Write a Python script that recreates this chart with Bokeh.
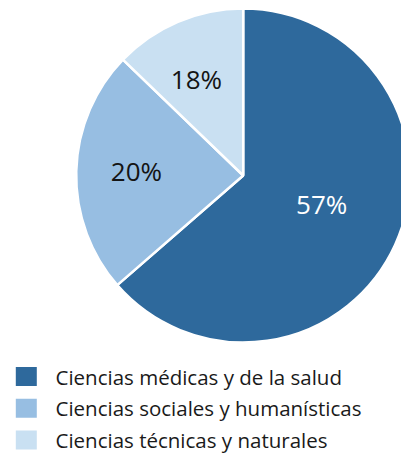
import numpy as np
from bokeh.plotting import figure
from bokeh.models import Range1d, ColumnDataSource
from bokeh.core.properties import value
from bokeh.embed import file_html
from bokeh.resources import INLINE

categories = ["Ciencias médicas y de la salud",
              "Ciencias sociales y humanísticas",
              "Ciencias técnicas y naturales"]
# slice shares as drawn in the picture (percent of the circle)
shares = [63.6, 23.6, 12.8]
# labels printed on the slices
labels = ["57%", "20%", "18%"]
colors = ["#2E699C", "#97BEE2", "#C9E0F2"]
label_colors = ["#FFFFFF", "#141414", "#141414"]

W, H = 401, 455
cx, cy, R = 242.7, 280.0, 167.0

frac = np.array(shares) / 100.0
cum = np.concatenate([[0.0], np.cumsum(frac)])
end_angles = np.pi / 2 - 2 * np.pi * cum[:-1]
start_angles = np.pi / 2 - 2 * np.pi * cum[1:]
mid = (start_angles + end_angles) / 2
label_r = np.array([0.50, 0.64, 0.64]) * R
label_shift = np.radians([4.5, -1.2, 2.9])

p = figure(width=W, height=H, output_backend="svg", toolbar_location=None,
           x_range=Range1d(0, W), y_range=Range1d(0, H),
           min_border=0, outline_line_color=None)
p.axis.visible = False
p.grid.visible = False
p.background_fill_color = "white"
p.border_fill_color = "white"

src = ColumnDataSource(dict(start=start_angles, end=end_angles, color=colors))
p.wedge(x=cx, y=cy, radius=R, start_angle="start", end_angle="end",
        direction="anticlock", fill_color="color", line_color="white",
        line_width=2.5, source=src)

ang = mid + label_shift
lsrc = ColumnDataSource(dict(x=cx + label_r * np.cos(ang), y=cy + label_r * np.sin(ang),
                             t=labels, c=label_colors))
p.text(x="x", y="y", text="t", text_color="c", source=lsrc,
       text_font=value("Open Sans"), text_font_size="26px",
       text_align="center", text_baseline="middle")

# legend
n = len(categories)
row_y = 79.0 - 31.7 * np.arange(n)
gsrc = ColumnDataSource(dict(x=[25.8] * n, y=row_y, c=colors,
                             tx=[55.0] * n, t=categories))
p.rect(x="x", y="y", width=21, height=19, fill_color="c", line_color=None, source=gsrc)
p.text(x="tx", y="y", text="t", source=gsrc, text_color="#1A1A1A",
       text_font=value("Open Sans"), text_font_size="20.5px",
       text_align="left", text_baseline="middle")

open("out.html", "w").write(file_html(p, INLINE))
